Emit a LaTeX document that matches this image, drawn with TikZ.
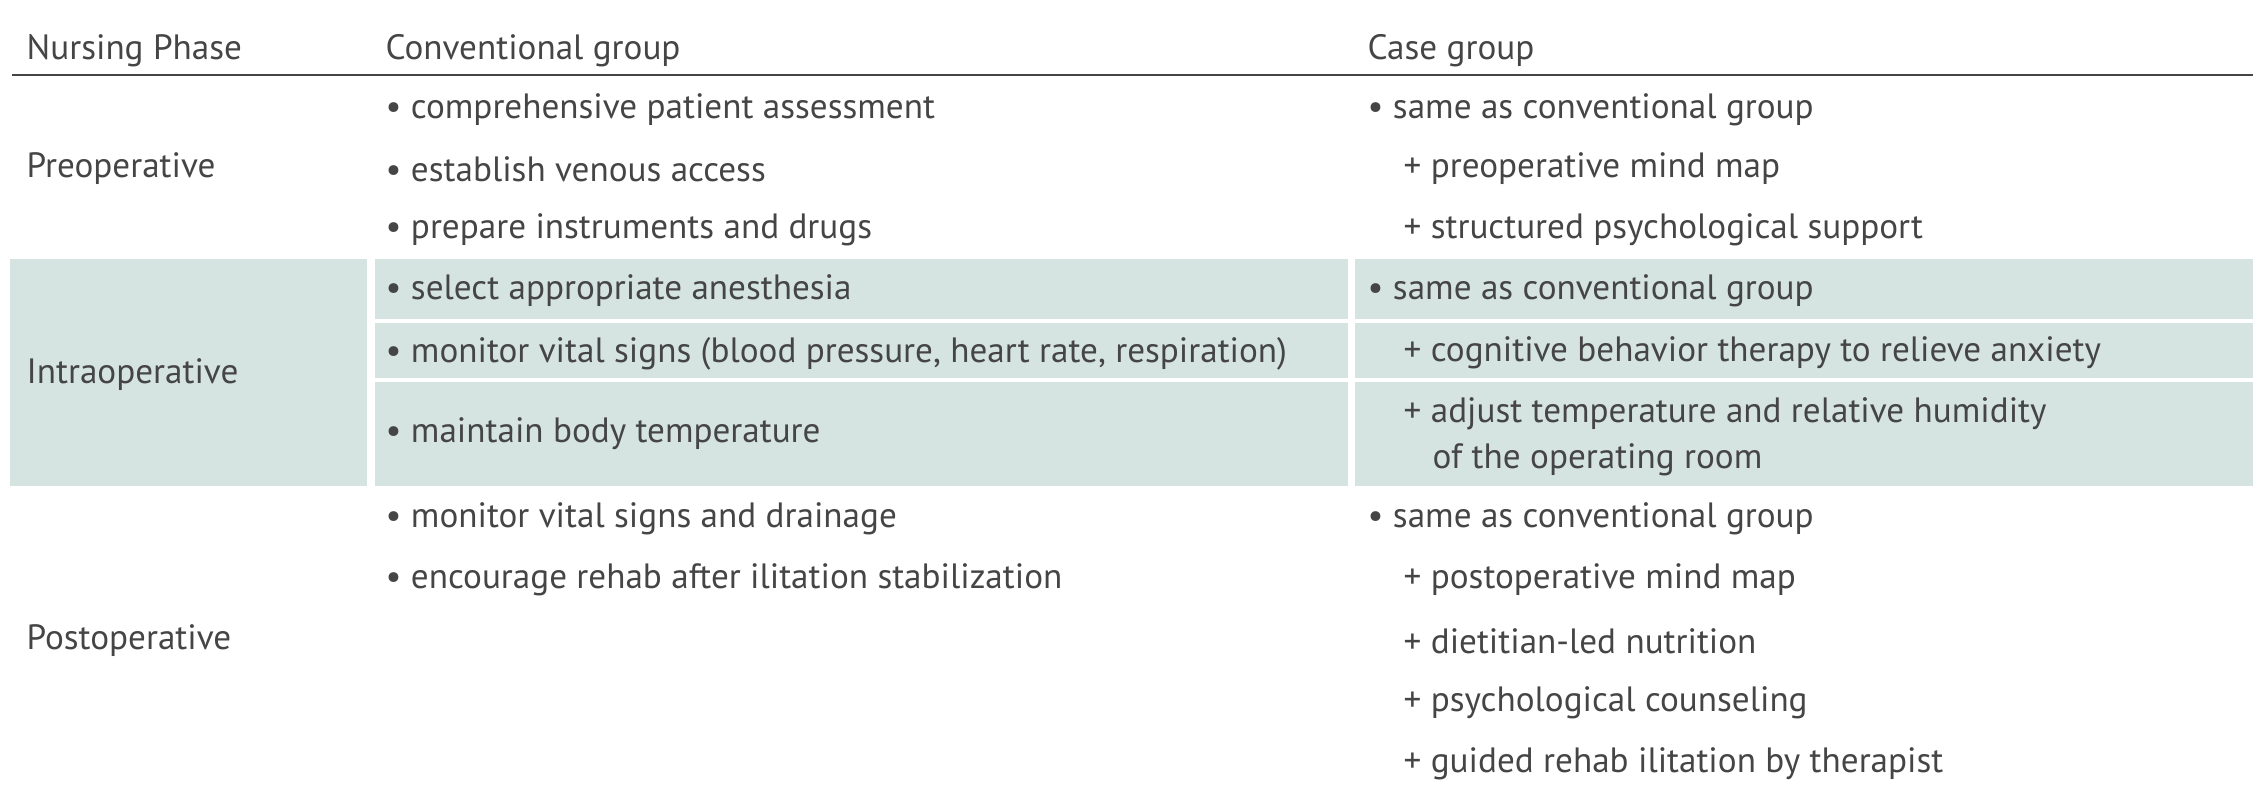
\documentclass[tikz,border=0pt]{standalone}
\usepackage{fontspec}
\setmainfont{PT Sans}
\definecolor{shade}{HTML}{D5E4E1}
\definecolor{txt}{HTML}{454545}
\begin{document}
\begin{tikzpicture}[x=0.01cm,y=-0.01cm,
  every node/.style={anchor=west,inner sep=0pt,text=txt,font=\fontsize{10}{11}\selectfont},
  band/.style={fill=shade,draw=none}]
\useasboundingbox (0,0) rectangle (2268,800);
% shaded band
\fill[band] (10,259) rectangle (367,486);
\fill[band] (375,259) rectangle (1348,486);
\fill[band] (1355,259) rectangle (2253,486);
\draw[white,line width=1.2pt] (375,321) -- (1348,321) (375,380) -- (1348,380);
\draw[white,line width=1.2pt] (1355,321) -- (2253,321) (1355,380) -- (2253,380);
% header
\node (hphase) at (26,51) {Nursing Phase};
\node (hconv) at (385,51) {Conventional group};
\node (hcase) at (1367,51) {Case group};
\coordinate (rl) at (12,75);
\coordinate (rr) at (2253,75);
\draw[txt,line width=0.8pt] (rl) -- (rr);
% phases
\node (pre) at (26,169) {Preoperative};
\node (intra) at (26,375) {Intraoperative};
\node (post) at (26,641) {Postoperative};
% conventional group
\node (c1) at (385,110) {• comprehensive patient assessment};
\node (c2) at (385,169) {• establish venous access};
\node (c3) at (385,230) {• prepare instruments and drugs};
\node (c4) at (385,291) {• select appropriate anesthesia};
\node (c5) at (385,354) {• monitor vital signs (blood pressure, heart rate, respiration)};
\node (c6) at (385,434) {• maintain body temperature};
\node (c7) at (385,519) {• monitor vital signs and drainage};
\node (c8) at (385,580) {• encourage rehab after ilitation stabilization};
% case group
\node (k1) at (1367,110) {• same as conventional group};
\node (k2) at (1403,169) {+ preoperative mind map};
\node (k3) at (1403,230) {+ structured psychological support};
\node (k4) at (1367,291) {• same as conventional group};
\node (k5) at (1403,353) {+ cognitive behavior therapy to relieve anxiety};
\node (k6) at (1403,414) {+ adjust temperature and relative humidity};
\node (k7) at (1432,460) {of the operating room};
\node (k8) at (1367,519) {• same as conventional group};
\node (k9) at (1403,580) {+ postoperative mind map};
\node (k10) at (1403,641) {+ dietitian-led nutrition};
\node (k11) at (1403,703) {+ psychological counseling};
\node (k12) at (1403,764) {+ guided rehab ilitation by therapist};
\end{tikzpicture}
\end{document}
